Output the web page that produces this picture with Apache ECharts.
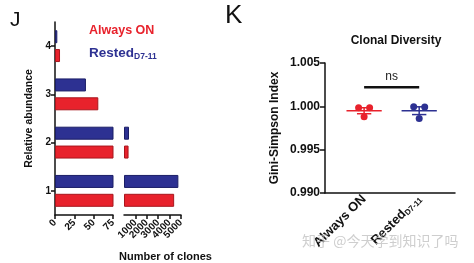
<!DOCTYPE html>
<html><head><meta charset="utf-8">
<script src="https://cdn.jsdelivr.net/npm/echarts@6/dist/echarts.min.js"></script>
<style>html,body{margin:0;padding:0;background:#fff}#c{width:474px;height:263px}</style>
</head><body><div id="c"></div>
<script>
// ---- data ----
const categories = ['1', '2', '3', '4'];
const alwaysOn = [4400, 400, 56, 6.5];
const rested = [4770, 440, 40, 3];
const groups = ['Always ON', 'Rested'];
const giniAlwaysOn = [0.99985, 0.99983, 0.99880];
const giniRested = [0.99996, 0.99993, 0.99860];
const jitter = [-0.1, 0.1, 0];
const sigLevel = 1.0022;
const sigLabel = 'ns';

// broken x axis: second segment only shows values above the break
const BREAK = 100;
const upper = arr => arr.map(v => (v > BREAK ? v : null));

const RED = '#e8222c', BLUE = '#2d3192';
const RED_D = '#a8161d', BLUE_D = '#1b1e66';
const F = '"Liberation Sans", Arial, sans-serif';

function stats(a) {
  const n = a.length, m = a.reduce((s, v) => s + v, 0) / n;
  const sd = Math.sqrt(a.reduce((s, v) => s + (v - m) * (v - m), 0) / (n - 1));
  return [m, sd / Math.sqrt(n)];
}
const sA = stats(giniAlwaysOn), sR = stats(giniRested);

const chart = echarts.init(document.getElementById('c'), null, {renderer: 'canvas'});
const axisLine = {show: true, lineStyle: {color: '#111', width: 1.5}};
const axisTick = {show: true, length: 4, lineStyle: {color: '#111', width: 1.5}};
const xLab = {rotate: 45, fontSize: 10, lineHeight: 6, fontWeight: 'bold', color: '#111', margin: 6, fontFamily: F,
  hideOverlap: false};

chart.setOption({
  animation: false,
  textStyle: {fontFamily: F},
  title: [{text: 'Clonal Diversity', left: 391, top: 30, textAlign: 'center',
    textStyle: {fontSize: 12, fontWeight: 'bold', color: '#111', fontFamily: F}}],
  grid: [
    {left: 55, top: 22, width: 58, height: 193},
    {left: 124, top: 22, width: 57, height: 193},
    {left: 325, top: 63, width: 130, height: 130}
  ],
  xAxis: [
    {type: 'value', gridIndex: 0, min: 0, max: 75, interval: 25,
     axisLine, axisTick, splitLine: {show: false},
     axisLabel: Object.assign({}, xLab, {showMinLabel: true, showMaxLabel: true})},
    {type: 'value', gridIndex: 1, min: 0, max: 5001, interval: 1000,
     axisLine, axisTick, splitLine: {show: false},
     axisLabel: Object.assign({}, xLab, {showMinLabel: false, showMaxLabel: false,
       formatter: v => (v === 0 || v % 1000 !== 0) ? '' : String(v)})},
    {type: 'value', gridIndex: 2, min: 0.29, max: 2.65,
     axisLine, axisTick: {show: false}, splitLine: {show: false},
     axisLabel: {customValues: [1, 2], rotate: 45, fontSize: 13, fontWeight: 'bold', color: '#111', margin: 4, fontFamily: F,
       hideOverlap: false,
       formatter: v => v === 1 ? groups[0] : '{a|' + groups[1] + '}{b|D7-11}',
       rich: {a: {fontSize: 13, fontWeight: 'bold', color: '#111', fontFamily: F},
              b: {fontSize: 8, fontWeight: 'bold', color: '#111', fontFamily: F, padding: [6, 0, 0, 0]}}}}
  ],
  yAxis: [
    {type: 'category', gridIndex: 0, data: categories, axisLine, axisTick: Object.assign({}, axisTick, {alignWithLabel: true}),
     axisLabel: {fontSize: 10, fontWeight: 'bold', color: '#111', margin: 4, fontFamily: F},
     name: 'Relative abundance', nameLocation: 'middle', nameGap: 20, nameRotate: 90,
     nameTextStyle: {fontSize: 10.5, fontWeight: 'bold', color: '#111', fontFamily: F}},
    {type: 'category', gridIndex: 1, data: categories, show: false},
    {type: 'value', gridIndex: 2, min: 0.990, max: 1.005, interval: 0.005,
     axisLine, axisTick: {show: true, length: 5, lineStyle: {color: '#111', width: 1.5}}, splitLine: {show: false},
     axisLabel: {fontSize: 12, fontWeight: 'bold', color: '#111', margin: 5, fontFamily: F, formatter: v => v.toFixed(3)},
     name: 'Gini-Simpson Index', nameLocation: 'middle', nameGap: 44, nameRotate: 90,
     nameTextStyle: {fontSize: 12, fontWeight: 'bold', color: '#111', fontFamily: F}}
  ],
  series: [
    {type: 'bar', name: 'Rested', xAxisIndex: 0, yAxisIndex: 0, data: rested, barWidth: 13, barGap: '45%',
     itemStyle: {color: BLUE, borderColor: BLUE_D, borderWidth: 1}},
    {type: 'bar', name: 'Always ON', xAxisIndex: 0, yAxisIndex: 0, data: alwaysOn, barWidth: 13, barGap: '45%',
     itemStyle: {color: RED, borderColor: RED_D, borderWidth: 1}},
    {type: 'bar', name: 'Rested', xAxisIndex: 1, yAxisIndex: 1, data: upper(rested), barWidth: 13, barGap: '45%',
     itemStyle: {color: BLUE, borderColor: BLUE_D, borderWidth: 1}},
    {type: 'bar', name: 'Always ON', xAxisIndex: 1, yAxisIndex: 1, data: upper(alwaysOn), barWidth: 13, barGap: '45%',
     itemStyle: {color: RED, borderColor: RED_D, borderWidth: 1}},
    {type: 'scatter', xAxisIndex: 2, yAxisIndex: 2, symbolSize: 7,
     data: giniAlwaysOn.map((v, i) => [1 + jitter[i], v]), itemStyle: {color: RED, opacity: 1}, z: 5},
    {type: 'scatter', xAxisIndex: 2, yAxisIndex: 2, symbolSize: 7,
     data: giniRested.map((v, i) => [2 + jitter[i], v]), itemStyle: {color: BLUE, opacity: 1}, z: 5},
    {type: 'custom', xAxisIndex: 2, yAxisIndex: 2, z: 4,
     data: [[1, sA[0], sA[1], 0], [2, sR[0], sR[1], 1]],
     renderItem: (p, api) => {
       const x = api.value(0), m = api.value(1), s = api.value(2);
       const col = api.value(3) === 0 ? RED : BLUE;
       const l = api.coord([x - 0.32, m]), r = api.coord([x + 0.32, m]);
       const top = api.coord([x, m + s]), bot = api.coord([x, m - s]);
       const cl = api.coord([x - 0.13, m + s]), cr = api.coord([x + 0.13, m + s]);
       const dl = api.coord([x - 0.13, m - s]), dr = api.coord([x + 0.13, m - s]);
       const st = {stroke: col, lineWidth: 1.5};
       return {type: 'group', children: [
         {type: 'line', shape: {x1: l[0], y1: l[1], x2: r[0], y2: r[1]}, style: st},
         {type: 'line', shape: {x1: top[0], y1: top[1], x2: bot[0], y2: bot[1]}, style: st},
         {type: 'line', shape: {x1: cl[0], y1: cl[1], x2: cr[0], y2: cr[1]}, style: st},
         {type: 'line', shape: {x1: dl[0], y1: dl[1], x2: dr[0], y2: dr[1]}, style: st}
       ]};
     }},
    {type: 'custom', xAxisIndex: 2, yAxisIndex: 2, z: 4,
     data: [[1, 2, sigLevel]],
     renderItem: (p, api) => {
       const a = api.coord([api.value(0), api.value(2)]), b = api.coord([api.value(1), api.value(2)]);
       return {type: 'group', children: [
         {type: 'line', shape: {x1: a[0], y1: a[1], x2: b[0], y2: b[1]}, style: {stroke: '#111', lineWidth: 2.5}},
         {type: 'text', x: (a[0] + b[0]) / 2, y: a[1] - 5,
          style: {text: sigLabel, fontSize: 12, fill: '#222', fontFamily: F, align: 'center', verticalAlign: 'bottom'}}
       ]};
     }}
  ],
  graphic: [
    {type: 'text', left: 10, top: 10, style: {text: 'J', fontSize: 21, fill: '#111', fontFamily: F}},
    {type: 'text', left: 225, top: 3, style: {text: 'K', fontSize: 26, fill: '#111', fontFamily: F}},
    {type: 'text', left: 89, top: 24, style: {text: 'Always ON', fontSize: 12.5, fontWeight: 'bold', fill: RED, fontFamily: F}},
    {type: 'text', left: 89, top: 46, style: {text: '{a|Rested}{b|D7-11}', fill: BLUE, fontFamily: F,
      rich: {a: {fontSize: 13.5, fontWeight: 'bold', fill: BLUE, fontFamily: F},
             b: {fontSize: 8.5, fontWeight: 'bold', fill: BLUE, fontFamily: F, padding: [7, 0, 0, 0]}}}},
    {type: 'text', left: 119, top: 251, style: {text: 'Number of clones', fontSize: 11, fontWeight: 'bold', fill: '#111', fontFamily: F, align: 'center'}},
    {type: 'text', left: 302, top: 234, z: 100, style: {text: '知乎 @今天学到知识了吗', fontSize: 14, fill: 'rgba(190,190,190,0.75)', fontFamily: '"Noto Sans CJK SC", sans-serif'}}
  ]
});
</script></body></html>
